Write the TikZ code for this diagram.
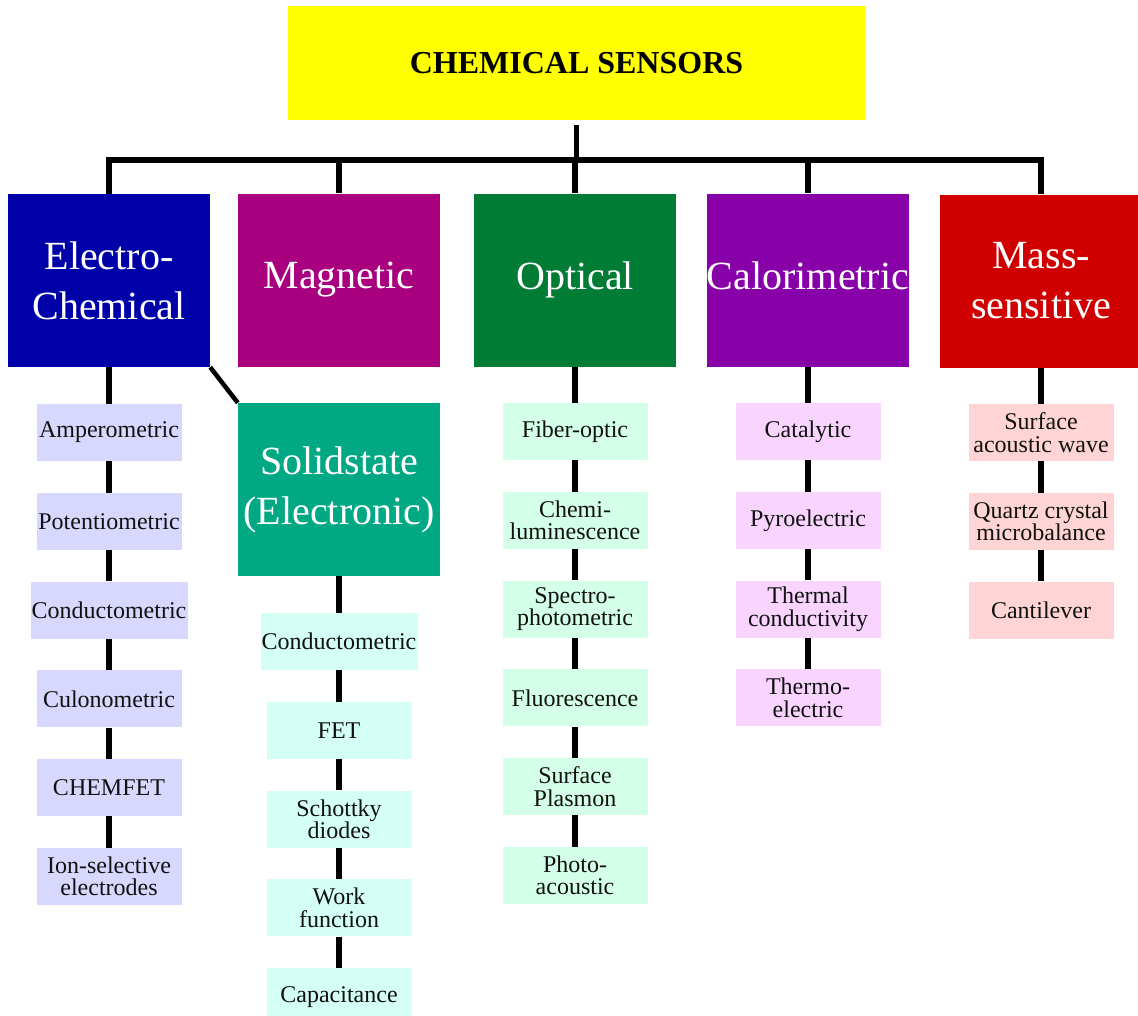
\documentclass[tikz,border=0pt]{standalone}
\usepackage{fontspec}
\setmainfont{Liberation Serif}
\definecolor{titleyellow}{HTML}{FFFF00}
\definecolor{ecblue}{HTML}{0000A8}
\definecolor{magmag}{HTML}{A8007F}
\definecolor{optgreen}{HTML}{007C34}
\definecolor{calpurple}{HTML}{8800A8}
\definecolor{massred}{HTML}{D00000}
\definecolor{ssteal}{HTML}{00A884}
\definecolor{ecsub}{HTML}{D8D8FF}
\definecolor{sssub}{HTML}{D4FFF4}
\definecolor{optsub}{HTML}{D4FFE8}
\definecolor{calsub}{HTML}{F8D4FF}
\definecolor{masssub}{HTML}{FFD4D4}
\definecolor{subtext}{HTML}{111111}
\tikzset{
  catbox/.style={fill=#1, text=white, minimum width=202pt, minimum height=173pt,
    inner sep=0pt, align=center, font=\fontsize{40}{50}\selectfont},
  subbox/.style={fill=#1, text=subtext, minimum width=145pt, minimum height=57pt,
    inner sep=0pt, align=center, font=\fontsize{24}{22.5}\selectfont},
  link/.style={draw=black, line width=5.5pt},
}
\begin{document}
\begin{tikzpicture}[x=1pt,y=-1pt]
\useasboundingbox (0,0) rectangle (1138,1015);
\fill[white] (0,0) rectangle (1138,1015);

% root
\node[fill=titleyellow, minimum width=577pt, minimum height=114pt, inner sep=0pt,
  font=\fontsize{32}{38}\selectfont\bfseries] (root) at (576.5,63) {CHEMICAL SENSORS};

% sensor families
\node[catbox=ecblue]     (ec)  at (109,280.5)  {Electro-\\Chemical};
\node[catbox=magmag]     (mag) at (339,280)    {Magnetic};
\node[catbox=optgreen]   (opt) at (575,280)    {Optical};
\node[catbox=calpurple, text depth=9pt] (cal) at (808,280) {Calorimetric};
\node[catbox=massred]    (ms)  at (1041,281)   {Mass-\\sensitive};
\node[catbox=ssteal]     (ss)  at (339,489.5)  {Solidstate\\(Electronic)};

% electrochemical
\node[subbox=ecsub] (ec1) at (109,432.5) {Amperometric};
\node[subbox=ecsub] (ec2) at (109,521.3) {Potentiometric};
\node[subbox=ecsub, minimum width=157pt] (ec3) at (109,610.1) {Conductometric};
\node[subbox=ecsub] (ec4) at (109,698.9) {Culonometric};
\node[subbox=ecsub] (ec5) at (109,787.7) {CHEMFET};
\node[subbox=ecsub] (ec6) at (109,876.5) {Ion-selective\\electrodes};

% solid state
\node[subbox=sssub, minimum width=157pt] (ss1) at (339,641.5) {Conductometric};
\node[subbox=sssub] (ss2) at (339,730.3) {FET};
\node[subbox=sssub] (ss3) at (339,819.1) {Schottky\\diodes};
\node[subbox=sssub] (ss4) at (339,907.9) {Work\\function};
\node[subbox=sssub] (ss5) at (339,996.7) {Capacitance};

% optical
\node[subbox=optsub] (op1) at (575,431.5) {Fiber-optic};
\node[subbox=optsub] (op2) at (575,520.3) {Chemi-\\luminescence};
\node[subbox=optsub] (op3) at (575,609.1) {Spectro-\\photometric};
\node[subbox=optsub] (op4) at (575,697.9) {Fluorescence};
\node[subbox=optsub] (op5) at (575,786.7) {Surface\\Plasmon};
\node[subbox=optsub] (op6) at (575,875.5) {Photo-\\acoustic};

% calorimetric
\node[subbox=calsub] (ca1) at (808,431.5) {Catalytic};
\node[subbox=calsub] (ca2) at (808,520.3) {Pyroelectric};
\node[subbox=calsub] (ca3) at (808,609.1) {Thermal\\conductivity};
\node[subbox=calsub] (ca4) at (808,697.9) {Thermo-\\electric};

% mass sensitive
\node[subbox=masssub] (ma1) at (1041,432.5) {Surface\\acoustic wave};
\node[subbox=masssub] (ma2) at (1041,521.3) {Quartz crystal\\microbalance};
\node[subbox=masssub] (ma3) at (1041,610.1) {Cantilever};

% trunk and branches
\coordinate (bar) at (575,160);
\draw[link] ([yshift=-5pt]root.south) -- (root.south |- bar);
\draw[link] ([xshift=-2.75pt]ec.north |- bar) -- ([xshift=2.75pt]ms.north |- bar);
\foreach \c in {ec,mag,opt,cal,ms}
  \draw[link] (\c.north |- bar) -- (\c.north);

% chains
\draw[link] (ec.south) -- (ec1.north);
\foreach \a/\b in {ec1/ec2,ec2/ec3,ec3/ec4,ec4/ec5,ec5/ec6}
  \draw[link] (\a.south) -- (\b.north);
\draw[link, line width=4.5pt] (ec.south east) -- (ss.north west);
\draw[link] (ss.south) -- (ss1.north);
\foreach \a/\b in {ss1/ss2,ss2/ss3,ss3/ss4,ss4/ss5}
  \draw[link] (\a.south) -- (\b.north);
\draw[link] (opt.south) -- (op1.north);
\foreach \a/\b in {op1/op2,op2/op3,op3/op4,op4/op5,op5/op6}
  \draw[link] (\a.south) -- (\b.north);
\draw[link] (cal.south) -- (ca1.north);
\foreach \a/\b in {ca1/ca2,ca2/ca3,ca3/ca4}
  \draw[link] (\a.south) -- (\b.north);
\draw[link] (ms.south) -- (ma1.north);
\foreach \a/\b in {ma1/ma2,ma2/ma3}
  \draw[link] (\a.south) -- (\b.north);
\end{tikzpicture}
\end{document}
